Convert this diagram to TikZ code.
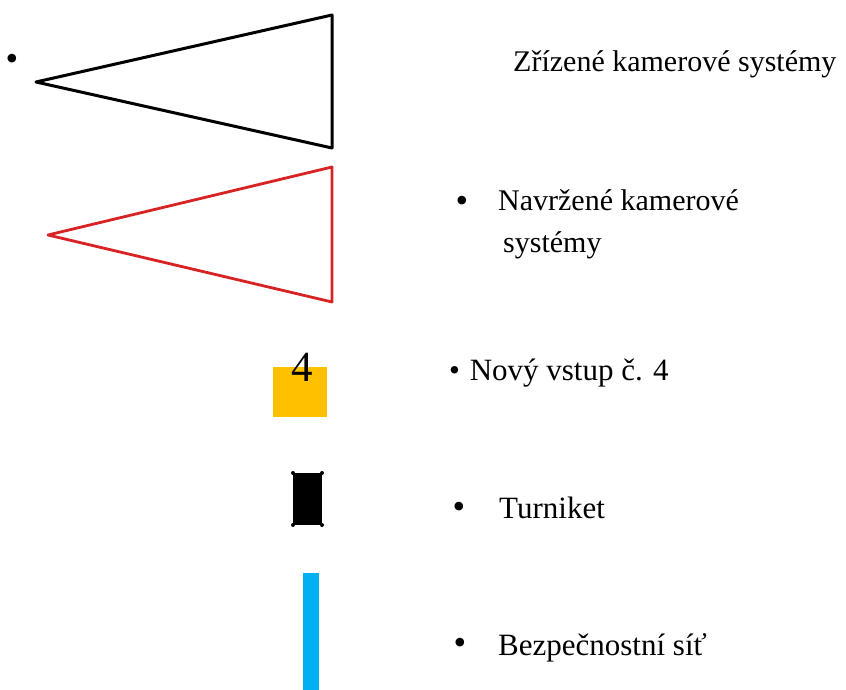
\documentclass[tikz,border=0pt]{standalone}
\usepackage{fontspec}
\setmainfont{Liberation Serif}
\usetikzlibrary{positioning}

\definecolor{camred}{RGB}{215,35,35}
\definecolor{gateyellow}{RGB}{255,192,0}
\definecolor{netblue}{RGB}{0,176,240}

\tikzset{
  legtext/.style={anchor=base west, inner sep=0pt, font=\fontsize{30}{36}\selectfont},
  legbullet/.style={anchor=base, inner sep=0pt, font=\fontsize{36}{40}\selectfont}
}

\begin{document}
\begin{tikzpicture}[x=1pt,y=-1pt]
  \useasboundingbox (0,0) rectangle (846,690);

  % existing cameras
  \draw [line width=3pt, line join=round] (36,82) -- (332,15) -- (332,148) -- cycle;
  \node [legbullet] (b1) at (12,71) {•};
  \node [legtext] (t1) at (513,72) {Zřízené kamerové systémy};

  % proposed cameras
  \draw [camred, line width=2.8pt, line join=round] (48,235) -- (332,167) -- (332,302) -- cycle;
  \node [legbullet] (b2) at (462,212) {•};
  \node [legtext] (t2) at (498,210) {Navržené kamerové};
  \node [legtext] (t2b) at (503,252) {systémy};

  % new entrance
  \fill [gateyellow] (273,367) rectangle (327,417);
  \node [anchor=base, inner sep=0pt, font=\fontsize{43}{48}\selectfont] (n4) at (302,381) {4};
  \node [legtext, font=\fontsize{31}{36}\selectfont] (t3) at (449,380) {•\hspace{2pt} Nový vstup č. 4};

  % turnstile
  \fill [black] (293,473) rectangle (322,525);
  \foreach \cx/\cy in {293/473, 322/473, 293/525, 322/525}
    \fill (\cx,\cy) circle (2);
  \node [legbullet] (b4) at (459,518) {•};
  \node [legtext, font=\fontsize{31}{36}\selectfont] (t4) at (499,518) {Turniket};

  % safety net
  \fill [netblue] (303,573) rectangle (319,690);
  \node [legbullet] (b5) at (460,654) {•};
  \node [legtext, font=\fontsize{31}{36}\selectfont] (t5) at (498,655) {Bezpečnostní síť};

\end{tikzpicture}
\end{document}
